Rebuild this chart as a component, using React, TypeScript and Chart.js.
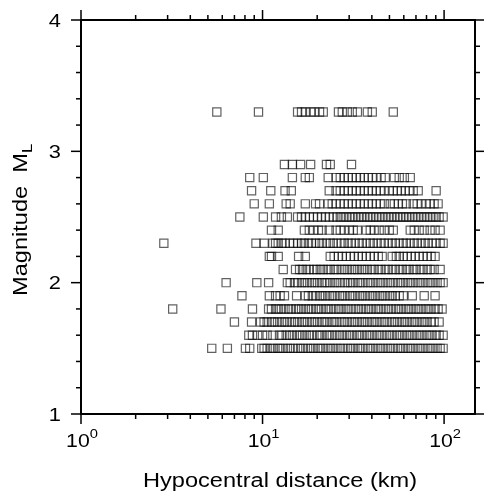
import React, { useEffect, useRef } from 'react';
import { Chart, registerables } from 'chart.js';

Chart.register(...registerables);

// ---- data: hypocentral distance (km) of events, grouped by magnitude ML ----
const magnitudes = [3.3, 2.9, 2.8, 2.7, 2.6, 2.5, 2.4, 2.3, 2.2, 2.1, 2.0, 1.9, 1.8, 1.7, 1.6, 1.5];

const distM33 = [5.6, 9.5, 15.6, 16.4, 17.2, 18.4, 19.3, 20.6, 21.6, 26.2, 27.5, 29.3, 31.2, 33.3, 37.8, 40.2, 52.5];
const distM29 = [13.2, 14.6, 16.2, 18.4, 22.5, 23.6, 30.9];
const distM28 = [8.5, 10.1, 14.6, 17.2, 18.1, 23.0, 25.4, 26.8, 28.2, 29.6, 31.2, 32.9, 34.5, 36.3, 38.3, 40.2, 42.3, 45.0, 47.4, 53.2, 56.6, 60.4, 65.1];
const distM27 = [8.7, 11.1, 13.3, 14.4, 23.3, 25.4, 26.8, 28.2, 29.6, 31.2, 32.9, 34.5, 36.3, 38.3, 40.2, 42.3, 44.5, 46.8, 49.9, 52.5, 55.3, 58.1, 61.1, 64.2, 67.6, 72.0, 90.4];
const distM26 = [9.0, 10.9, 13.5, 14.2, 17.2, 19.6, 20.6, 23.0, 24.2, 25.4, 26.8, 28.2, 29.6, 31.2, 32.9, 34.5, 36.3, 38.3, 40.2, 42.3, 44.5, 46.8, 50.5, 53.2, 56.0, 58.9, 61.9, 67.6, 71.1, 74.8, 79.7, 83.8, 88.1, 92.7];
const distM25 = [7.5, 10.1, 11.8, 12.7, 13.7, 15.6, 16.4, 17.2, 18.1, 19.1, 20.1, 21.1, 22.2, 23.3, 24.5, 25.7, 26.8, 27.8, 28.9, 30.1, 31.2, 32.4, 33.7, 35.0, 36.3, 37.8, 39.2, 40.7, 42.3, 43.9, 45.6, 47.4, 49.3, 51.2, 53.2, 55.3, 57.4, 59.6, 61.9, 64.2, 66.8, 69.3, 72.0, 74.8, 77.7, 80.7, 83.8, 87.0, 90.4, 93.9, 98.8];
const distM24 = [11.2, 12.2, 17.0, 18.1, 19.1, 20.3, 21.3, 23.3, 25.4, 26.8, 28.2, 30.1, 31.6, 33.3, 37.3, 39.2, 41.2, 43.9, 46.8, 49.9, 52.5, 65.1, 68.5, 72.9, 77.7, 83.8, 89.2, 95.1];
const distM23 = [2.86, 9.2, 10.2, 11.4, 11.8, 12.2, 12.8, 13.3, 14.1, 14.8, 15.6, 16.4, 17.0, 17.9, 18.6, 19.6, 20.6, 21.3, 22.5, 23.6, 24.5, 25.7, 27.1, 28.2, 29.6, 30.8, 32.4, 34.1, 35.4, 37.3, 39.2, 40.7, 42.8, 45.0, 46.8, 49.3, 51.8, 53.9, 56.6, 59.6, 61.9, 65.1, 68.5, 71.1, 74.8, 78.7, 81.7, 85.9, 90.4, 95.1, 98.8];
const distM22 = [10.9, 11.2, 12.2, 15.8, 17.2, 23.6, 24.8, 26.2, 27.5, 28.9, 30.5, 32.0, 33.7, 35.4, 37.3, 39.2, 41.2, 43.4, 45.6, 51.8, 54.6, 56.6, 59.6, 62.7, 65.9, 69.3, 72.9, 76.7, 80.7, 84.8, 89.2];
const distM21 = [13.0, 15.2, 16.0, 16.6, 17.4, 18.1, 19.1, 19.9, 20.8, 21.6, 22.7, 23.6, 24.8, 25.7, 27.1, 28.2, 29.3, 30.8, 32.0, 33.3, 35.0, 36.3, 37.8, 39.7, 41.2, 43.4, 45.0, 47.4, 49.3, 51.8, 53.9, 56.6, 58.9, 61.9, 64.2, 67.6, 70.2, 73.8, 76.7, 80.7, 83.8, 88.1, 95.1];
const distM20 = [6.3, 9.3, 10.8, 13.7, 14.2, 15.0, 15.6, 16.4, 17.0, 17.7, 18.6, 19.3, 20.1, 21.1, 21.9, 22.7, 23.6, 24.8, 25.7, 26.8, 28.2, 29.3, 30.5, 31.6, 33.3, 34.5, 35.8, 37.8, 39.2, 40.7, 42.8, 44.5, 46.2, 48.6, 50.5, 52.5, 55.3, 57.4, 59.6, 62.7, 65.1, 67.6, 71.1, 73.8, 76.7, 80.7, 83.8, 87.0, 91.5, 95.1, 98.8];
const distM19 = [7.7, 10.9, 11.8, 12.5, 13.2, 15.4, 17.2, 17.9, 18.8, 19.6, 20.6, 21.3, 22.2, 23.3, 24.2, 25.1, 26.5, 27.5, 28.5, 30.1, 31.2, 32.4, 34.1, 35.4, 36.8, 38.7, 40.2, 41.8, 43.9, 45.6, 47.4, 49.9, 51.8, 53.9, 56.6, 59.6, 66.8, 77.7, 89.2];
const distM18 = [3.2, 5.9, 8.8, 10.8, 11.2, 11.8, 12.2, 12.7, 13.3, 13.9, 14.4, 15.2, 15.8, 16.4, 17.2, 17.9, 18.6, 19.6, 20.3, 21.1, 22.2, 23.0, 23.9, 25.1, 26.2, 27.1, 28.5, 29.6, 30.8, 32.4, 33.7, 35.0, 36.8, 38.3, 39.7, 41.8, 43.4, 45.0, 47.4, 49.3, 51.2, 53.9, 56.0, 58.1, 61.1, 63.5, 65.9, 69.3, 72.0, 74.8, 78.7, 81.7, 84.8, 89.2, 92.7, 97.5];
const distM17 = [7.0, 8.7, 9.75, 10.2, 10.6, 11.2, 11.6, 12.1, 12.7, 13.2, 13.7, 14.4, 15.0, 15.6, 16.4, 17.0, 17.7, 18.6, 19.3, 20.1, 21.1, 21.9, 22.7, 23.9, 24.8, 25.7, 27.1, 28.2, 29.3, 30.8, 32.0, 33.3, 35.0, 36.3, 37.8, 39.7, 41.2, 42.8, 45.0, 46.8, 48.6, 51.2, 53.2, 55.3, 58.1, 60.4, 62.7, 65.9, 68.5, 71.1, 74.8, 77.7, 80.7, 84.8, 88.1, 93.9];
const distM16 = [8.4, 8.8, 9.4, 10.0, 10.6, 11.4, 12.4, 12.8, 13.5, 14.1, 14.6, 15.4, 16.0, 16.6, 17.4, 18.1, 18.8, 19.9, 20.6, 21.3, 22.5, 23.3, 24.2, 25.4, 26.5, 27.5, 28.9, 30.1, 31.2, 32.9, 34.1, 35.4, 37.3, 38.7, 40.2, 42.3, 43.9, 45.6, 48.0, 49.9, 51.8, 54.6, 56.6, 58.9, 61.9, 64.2, 66.8, 70.2, 72.9, 75.7, 79.7, 82.7, 85.9, 90.4, 93.9, 98.8];
const distM15 = [5.25, 6.4, 8.05, 8.5, 9.9, 10.2, 10.6, 11.1, 11.5, 12.1, 12.5, 13.0, 13.7, 14.2, 14.8, 15.6, 16.2, 16.8, 17.7, 18.4, 19.1, 20.1, 20.8, 21.6, 22.7, 23.6, 24.5, 25.7, 26.8, 27.8, 29.3, 30.5, 31.6, 33.3, 34.5, 35.8, 37.8, 39.2, 40.7, 42.8, 44.5, 46.2, 48.6, 50.5, 52.5, 55.3, 57.4, 59.6, 62.7, 65.1, 67.6, 71.1, 73.8, 76.7, 80.7, 83.8, 87.0, 91.5, 95.1, 98.8];

const distancesByMagnitude = [distM33, distM29, distM28, distM27, distM26, distM25, distM24, distM23, distM22, distM21, distM20, distM19, distM18, distM17, distM16, distM15];

// ---- axes ----
const xMin = 1;
const xMax = 148;
const yMin = 1;
const yMax = 4;
const xMajorTicks = [1, 10, 100];
const xMajorExponents = ['0', '1', '2'];
const xMinorTicks = [2, 3, 4, 5, 6, 7, 8, 9, 20, 30, 40, 50, 60, 70, 80, 90];
const yMajorTicks = [1, 2, 3, 4];
const yMajorLabels = ['1', '2', '3', '4'];
const yMinorTicks = [1.2, 1.4, 1.6, 1.8, 2.2, 2.4, 2.6, 2.8, 3.2, 3.4, 3.6, 3.8];
const xTitle = 'Hypocentral distance (km)';
const yTitle = 'Magnitude  M';
const yTitleSub = 'L';

const FONT = '"Liberation Sans", Arial, Helvetica, sans-serif';
const STRETCH = 1.18;

function drawText(ctx: CanvasRenderingContext2D, text: string, x: number, y: number, size: number, align: CanvasTextAlign, rot = 0) {
  ctx.save();
  ctx.translate(x, y);
  if (rot) ctx.rotate(rot);
  ctx.scale(STRETCH, 1);
  ctx.font = `${size}px ${FONT}`;
  ctx.textAlign = align;
  ctx.textBaseline = 'alphabetic';
  ctx.fillText(text, 0, 0);
  ctx.restore();
}

function measure(ctx: CanvasRenderingContext2D, text: string, size: number) {
  ctx.save();
  ctx.font = `${size}px ${FONT}`;
  const w = ctx.measureText(text).width * STRETCH;
  ctx.restore();
  return w;
}

const framePlugin = {
  id: 'gmtFrame',
  afterDraw(chart: any) {
    const ctx: CanvasRenderingContext2D = chart.ctx;
    const { left, right, top, bottom } = chart.chartArea;
    const xs = chart.scales.x;
    const ys = chart.scales.y;
    ctx.save();
    ctx.strokeStyle = '#000';
    ctx.fillStyle = '#000';
    ctx.lineWidth = 1.5;
    const line = (x1: number, y1: number, x2: number, y2: number) => {
      ctx.beginPath();
      ctx.moveTo(x1, y1);
      ctx.lineTo(x2, y2);
      ctx.stroke();
    };
    const MAJ = 10;
    const MIN = 5;
    xMajorTicks.forEach((v) => {
      const x = xs.getPixelForValue(v);
      line(x, bottom, x, bottom + MAJ);
      line(x, top, x, top - MAJ);
    });
    xMinorTicks.forEach((v) => {
      const x = xs.getPixelForValue(v);
      line(x, bottom, x, bottom + MIN);
      line(x, top, x, top - MIN);
    });
    yMajorTicks.forEach((v) => {
      const y = ys.getPixelForValue(v);
      line(left, y, left - MAJ, y);
      line(right, y, right + MAJ, y);
    });
    yMinorTicks.forEach((v) => {
      const y = ys.getPixelForValue(v);
      line(left, y, left - MIN, y);
      line(right, y, right + MIN, y);
    });
    ctx.lineWidth = 2;
    ctx.strokeRect(left, top, right - left, bottom - top);

    // y tick labels
    yMajorTicks.forEach((v, i) => {
      const y = ys.getPixelForValue(v);
      drawText(ctx, yMajorLabels[i], left - 20, y + 6.5, 18.5, 'right');
    });
    // x tick labels: 10^k
    xMajorTicks.forEach((v, i) => {
      const x = xs.getPixelForValue(v);
      const wBase = measure(ctx, '10', 18);
      const wSup = measure(ctx, xMajorExponents[i], 12.5);
      const start = x - (wBase + wSup) / 2 + 1;
      drawText(ctx, '10', start, bottom + 33, 18, 'left');
      drawText(ctx, xMajorExponents[i], start + wBase, bottom + 24, 12.5, 'left');
    });
    // x title
    drawText(ctx, xTitle, (left + right) / 2 + 2, bottom + 73, 20, 'center');
    // y title, rotated, with subscript
    const yStart = 296;
    const xBase = 27;
    drawText(ctx, yTitle, xBase, yStart, 20, 'left', -Math.PI / 2);
    const wTitle = measure(ctx, yTitle, 20);
    drawText(ctx, yTitleSub, xBase + 5, yStart - wTitle, 14, 'left', -Math.PI / 2);
    ctx.restore();
  },
};

export default function App() {
  const ref = useRef<HTMLCanvasElement>(null);
  useEffect(() => {
    if (!ref.current) return;
    const points: { x: number; y: number }[] = [];
    distancesByMagnitude.forEach((row, i) => {
      row.forEach((d) => points.push({ x: d, y: magnitudes[i] }));
    });
    const chart = new Chart(ref.current, {
      type: 'scatter',
      data: {
        datasets: [
          {
            data: points,
            pointStyle: 'rect',
            pointRadius: 5.8,
            borderWidth: 1.2,
            borderColor: 'rgba(0,0,0,0.62)',
            backgroundColor: 'rgba(0,0,0,0)',
          },
        ],
      },
      options: {
        animation: false,
        responsive: true,
        maintainAspectRatio: false,
        devicePixelRatio: 1,
        events: [],
        layout: { padding: { left: 81, right: 9, top: 20, bottom: 81 } },
        plugins: { legend: { display: false }, tooltip: { enabled: false } },
        scales: {
          x: { type: 'logarithmic', min: xMin, max: xMax, display: false },
          y: { type: 'linear', min: yMin, max: yMax, display: false },
        },
      },
      plugins: [framePlugin],
    });
    return () => chart.destroy();
  }, []);
  return (
    <div style={{ position: 'absolute', left: 0, top: 0, width: 484, height: 495, background: '#fff' }}>
      <canvas ref={ref} />
    </div>
  );
}
